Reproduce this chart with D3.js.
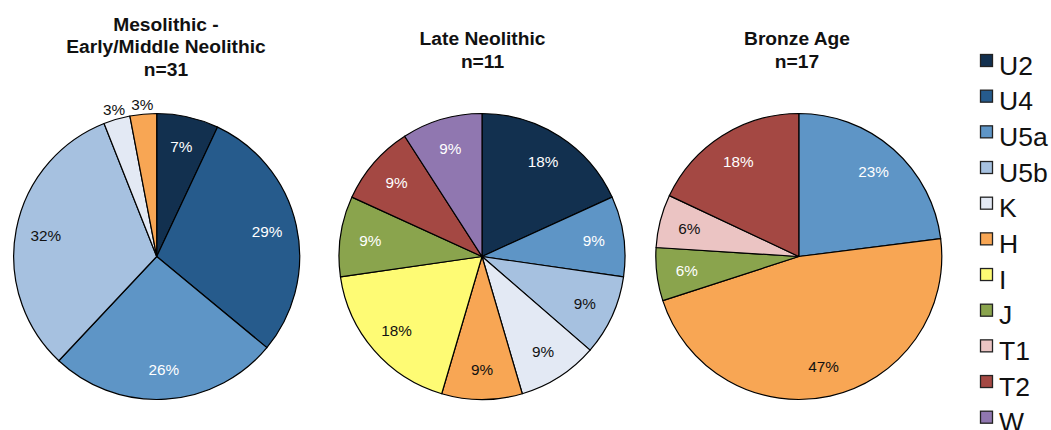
<!DOCTYPE html>
<html>
<head>
<meta charset="utf-8">
<script src="https://cdn.jsdelivr.net/npm/d3@7"></script>
<style>
  html, body { margin: 0; padding: 0; background: #fff; }
  svg { display: block; font-family: "Liberation Sans", Arial, Helvetica, sans-serif; }
</style>
</head>
<body>
<svg id="chart" width="1051" height="430"></svg>
<script>
// Haplogroup categories, in legend and slice order
const haplogroups = ["U2", "U4", "U5a", "U5b", "K", "H", "I", "J", "T1", "T2", "W"];
const groupColors = ["#12304f", "#265b8c", "#5e95c6", "#a6c1e0", "#e3e9f4", "#f8a654",
                     "#fefb74", "#8aa44d", "#ebc4c3", "#a44843", "#9077b0"];
// Label text colour for each haplogroup slice
const labelColors = ["#fff", "#fff", "#fff", "#111", "#111", "#111",
                     "#111", "#fff", "#111", "#fff", "#fff"];

// Percentage of samples per haplogroup for each period (0 = absent)
const mesolithicPct    = [7, 29, 26, 32, 3, 3, 0, 0, 0, 0, 0];
const lateNeolithicPct = [18, 0, 9, 9, 9, 9, 18, 9, 0, 9, 9];
const bronzeAgePct     = [0, 0, 23, 0, 0, 47, 0, 6, 6, 18, 0];

// Panel titles (one entry per line)
const mesolithicTitle    = ["Mesolithic -", "Early/Middle Neolithic", "n=31"];
const lateNeolithicTitle = ["Late Neolithic", "n=11"];
const bronzeAgeTitle     = ["Bronze Age", "n=17"];

const panels = [
  { values: mesolithicPct,    title: mesolithicTitle,    cx: 156.7, titleX: 166,   titleY: 30.5 },
  { values: lateNeolithicPct, title: lateNeolithicTitle, cx: 482,   titleX: 482.5, titleY: 45 },
  { values: bronzeAgePct,     title: bronzeAgeTitle,     cx: 798.8, titleX: 797,   titleY: 45 }
];

const svg = d3.select("#chart");
const radius = 143;
const cy = 256.5;

const color = d3.scaleOrdinal().domain(haplogroups).range(groupColors);
const labelColor = d3.scaleOrdinal().domain(haplogroups).range(labelColors);

const pie = d3.pie().sort(null).value(d => d.value);
const arc = d3.arc().innerRadius(0).outerRadius(radius);
const labelArc = d3.arc().innerRadius(radius * 0.79).outerRadius(radius * 0.79);
const outerLabelArc = d3.arc().innerRadius(radius * 1.07).outerRadius(radius * 1.07);

panels.forEach(p => {
  const data = haplogroups.map((g, i) => ({ group: g, value: p.values[i] }))
                          .filter(d => d.value > 0);
  const arcs = pie(data);
  const isSmall = d => d.data.value < 5;

  const g = svg.append("g").attr("transform", `translate(${p.cx},${cy})`);

  g.selectAll("path.slice")
    .data(arcs)
    .join("path")
    .attr("class", "slice")
    .attr("d", arc)
    .attr("fill", d => color(d.data.group))
    .attr("stroke", "#000")
    .attr("stroke-width", 1.2)
    .attr("stroke-linejoin", "round");

  g.selectAll("text.pct")
    .data(arcs)
    .join("text")
    .attr("class", "pct")
    .attr("transform", d => `translate(${(isSmall(d) ? outerLabelArc : labelArc).centroid(d)})`)
    .attr("text-anchor", "middle")
    .attr("dy", "0.36em")
    .attr("font-size", 15.3)
    .attr("fill", d => isSmall(d) ? "#111" : labelColor(d.data.group))
    .text(d => d.data.value + "%");

  svg.append("text")
    .attr("x", p.titleX)
    .attr("y", p.titleY)
    .attr("text-anchor", "middle")
    .attr("font-size", 19.2)
    .attr("font-weight", "bold")
    .attr("fill", "#111")
    .selectAll("tspan")
    .data(p.title)
    .join("tspan")
    .attr("x", p.titleX)
    .attr("dy", (d, i) => i === 0 ? 0 : 22.7)
    .text(d => d);
});

// Legend
const legendY = d3.scalePoint().domain(haplogroups).range([54, 410.7]);
const item = svg.append("g").selectAll("g.item")
  .data(haplogroups)
  .join("g")
  .attr("class", "item")
  .attr("transform", d => `translate(980,${legendY(d)})`);

item.append("rect")
  .attr("x", 0.5).attr("y", 0.5)
  .attr("width", 12).attr("height", 12)
  .attr("fill", d => color(d))
  .attr("stroke", "#222")
  .attr("stroke-width", 1.3);

item.append("text")
  .attr("x", 19)
  .attr("y", 20.5)
  .attr("font-size", 26.5)
  .attr("fill", "#111")
  .text(d => d);
</script>
</body>
</html>
